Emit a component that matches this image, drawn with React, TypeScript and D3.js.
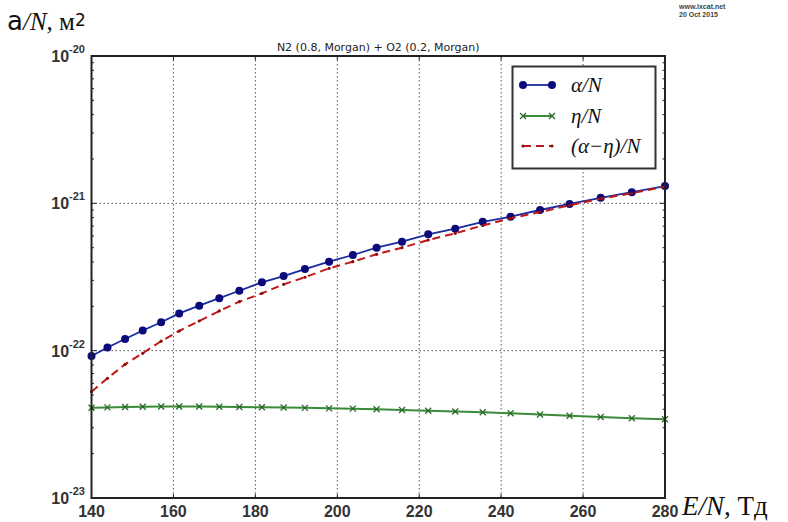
import React from "react";
import * as d3 from "d3";

const enValues = [140.0, 143.9, 148.2, 152.5, 157.0, 161.4, 166.3, 171.2, 176.1, 181.6, 186.9, 192.1, 198.0, 203.8, 209.6, 215.8, 222.2, 228.8, 235.5, 242.3, 249.5, 256.7, 264.3, 271.9, 280.0];
const alphaValues = [9.2e-23, 1.05e-22, 1.2e-22, 1.37e-22, 1.56e-22, 1.79e-22, 2.02e-22, 2.27e-22, 2.55e-22, 2.91e-22, 3.21e-22, 3.58e-22, 4.02e-22, 4.46e-22, 5.0e-22, 5.49e-22, 6.16e-22, 6.73e-22, 7.49e-22, 8.11e-22, 9.01e-22, 9.9e-22, 1.09e-21, 1.19e-21, 1.31e-21];
const etaValues = [4.1e-23, 4.12e-23, 4.15e-23, 4.16e-23, 4.18e-23, 4.18e-23, 4.18e-23, 4.16e-23, 4.15e-23, 4.13e-23, 4.11e-23, 4.09e-23, 4.06e-23, 4.04e-23, 4.0e-23, 3.96e-23, 3.91e-23, 3.86e-23, 3.82e-23, 3.76e-23, 3.69e-23, 3.62e-23, 3.55e-23, 3.48e-23, 3.42e-23];
const netValues = [5.27e-23, 6.49e-23, 8.08e-23, 9.6e-23, 1.16e-22, 1.36e-22, 1.59e-22, 1.86e-22, 2.15e-22, 2.45e-22, 2.82e-22, 3.15e-22, 3.62e-22, 4.02e-22, 4.51e-22, 5.0e-22, 5.64e-22, 6.26e-22, 7.07e-22, 7.91e-22, 8.73e-22, 9.7e-22, 1.075e-21, 1.17e-21, 1.3e-21];

const xTicks = [140, 160, 180, 200, 220, 240, 260, 280];
const yTicks = [1e-23, 1e-22, 1e-21, 1e-20];
const yTickExp = ["-23", "-22", "-21", "-20"];
const titleText = "N2 (0.8, Morgan) + O2 (0.2, Morgan)";
const legendLabels = ["α/N", "η/N", "(α−η)/N"];

const W = 788, H = 522;
const L = 91.5, R = 665, T = 56, B = 498;

export default function App() {
  const x = d3.scaleLinear().domain([140, 280]).range([L, R]);
  const y = d3.scaleLog().domain([1e-23, 1e-20]).range([B, T]);

  const mk = (vals: number[]) =>
    d3.line<number>().x((_, i) => x(enValues[i])).y((v) => y(v))(vals) || "";

  const minor: number[] = [];
  [1e-23, 1e-22, 1e-21].forEach((d) => {
    for (let k = 2; k <= 9; k++) minor.push(d * k);
  });

  const blue = "#1a2aa0";
  const blueMk = "#0a0a7a";
  const green = "#3a8a3a";
  const red = "#c01818";

  const xMark = (cx: number, cy: number, s: number, key: any, color: string) => (
    <g key={key} stroke={color} strokeWidth={1.3}>
      <line x1={cx - s} y1={cy - s} x2={cx + s} y2={cy + s} />
      <line x1={cx - s} y1={cy + s} x2={cx + s} y2={cy - s} />
    </g>
  );

  const legX1 = 523, legX2 = 552, legRows = [85, 116, 146];

  return (
    <svg width={W} height={H} style={{ position: "absolute", left: 0, top: 0, background: "#fff" }}>
      <rect x={0} y={0} width={W} height={H} fill="#fff" />
      {/* watermark */}
      <text x={679} y={8.5} fontFamily="Liberation Sans" fontWeight="bold" fontSize={7} fill="#444">www.lxcat.net</text>
      <text x={679} y={16.5} fontFamily="Liberation Sans" fontWeight="bold" fontSize={7} fill="#444">20 Oct 2015</text>

      {/* y label */}
      <text x={7} y={30} fill="#111">
        <tspan fontFamily="DejaVu Sans" fontSize={26}>a</tspan>
        <tspan fontFamily="Liberation Serif" fontStyle="italic" fontSize={25}>/N</tspan>
        <tspan fontFamily="Liberation Serif" fontSize={25}>, м</tspan>
        <tspan fontFamily="DejaVu Sans" fontSize={17} dy={-4}>2</tspan>
      </text>

      {/* title */}
      <text x={(L + R) / 2} y={51} textAnchor="middle" fontFamily="DejaVu Sans" fontSize={11} fill="#222">{titleText}</text>

      {/* grid */}
      <g stroke="#555" strokeWidth={1} strokeDasharray="1.5,2.5">
        {xTicks.slice(1, -1).map((t) => (
          <line key={"gx" + t} x1={x(t)} x2={x(t)} y1={T} y2={B} />
        ))}
        {yTicks.slice(1, -1).map((t, i) => (
          <line key={"gy" + i} x1={L} x2={R} y1={y(t)} y2={y(t)} />
        ))}
      </g>

      {/* series */}
      <path d={mk(etaValues)} fill="none" stroke={green} strokeWidth={2} />
      {etaValues.map((v, i) => xMark(x(enValues[i]), y(v), 3, "e" + i, "#2a6a2a"))}

      <path d={mk(alphaValues)} fill="none" stroke={blue} strokeWidth={1.8} />
      {alphaValues.map((v, i) => (
        <circle key={"a" + i} cx={x(enValues[i])} cy={y(v)} r={4} fill={blueMk} />
      ))}

      <path d={mk(netValues)} fill="none" stroke={red} strokeWidth={2} strokeDasharray="8,5" />
      {netValues.map((v, i) => (
        <circle key={"n" + i} cx={x(enValues[i])} cy={y(v)} r={1.6} fill="#8a0a0a" />
      ))}

      {/* ticks */}
      <g stroke="#222" strokeWidth={1}>
        {xTicks.map((t) => (
          <g key={"xt" + t}>
            <line x1={x(t)} x2={x(t)} y1={B} y2={B - 4} />
            <line x1={x(t)} x2={x(t)} y1={T} y2={T + 4} />
          </g>
        ))}
        {yTicks.map((t, i) => (
          <g key={"yt" + i}>
            <line x1={L} x2={L + 5} y1={y(t)} y2={y(t)} />
            <line x1={R} x2={R - 5} y1={y(t)} y2={y(t)} />
          </g>
        ))}
        {minor.map((t, i) => (
          <g key={"ym" + i}>
            <line x1={L} x2={L + 2.5} y1={y(t)} y2={y(t)} />
            <line x1={R} x2={R - 2.5} y1={y(t)} y2={y(t)} />
          </g>
        ))}
      </g>

      {/* frame */}
      <rect x={L} y={T} width={R - L} height={B - T} fill="none" stroke="#222" strokeWidth={2} />

      {/* tick labels */}
      {xTicks.map((t) => (
        <text key={"xl" + t} x={x(t)} y={516.5} textAnchor="middle" fontFamily="Liberation Sans" fontWeight="bold" fontSize={16} fill="#333">{t}</text>
      ))}
      {yTicks.map((t, i) => (
        <text key={"yl" + i} x={85} y={y(t) + 6} textAnchor="end" fontFamily="Liberation Sans" fontWeight="bold" fill="#333">
          <tspan fontSize={16}>10</tspan>
          <tspan fontSize={11} dy={-9}>{yTickExp[i]}</tspan>
        </text>
      ))}

      {/* x label */}
      <text x={682} y={515} fontFamily="Liberation Serif" fontSize={27} fill="#111">
        <tspan fontStyle="italic">E/N</tspan>
        <tspan>, Тд</tspan>
      </text>

      {/* legend */}
      <rect x={512.5} y={66.5} width={143} height={102} fill="#fff" stroke="#333" strokeWidth={2} />
      <line x1={legX1} x2={legX2} y1={legRows[0]} y2={legRows[0]} stroke={blue} strokeWidth={1.8} />
      <circle cx={legX1} cy={legRows[0]} r={4} fill={blueMk} />
      <circle cx={legX2} cy={legRows[0]} r={4} fill={blueMk} />
      <line x1={legX1} x2={legX2} y1={legRows[1]} y2={legRows[1]} stroke={green} strokeWidth={2} />
      {xMark(legX1, legRows[1], 3, "lx1", "#2a6a2a")}
      {xMark(legX2, legRows[1], 3, "lx2", "#2a6a2a")}
      <line x1={legX1} x2={legX2} y1={legRows[2]} y2={legRows[2]} stroke={red} strokeWidth={2} strokeDasharray="8,5" />
      <circle cx={legX1} cy={legRows[2]} r={1.6} fill="#8a0a0a" />
      <circle cx={legX2} cy={legRows[2]} r={1.6} fill="#8a0a0a" />
      {legendLabels.map((s, i) => (
        <text key={"ll" + i} x={571} y={legRows[i] + 7} fontFamily="Liberation Serif" fontStyle="italic" fontSize={21} fill="#111">{s}</text>
      ))}
    </svg>
  );
}
